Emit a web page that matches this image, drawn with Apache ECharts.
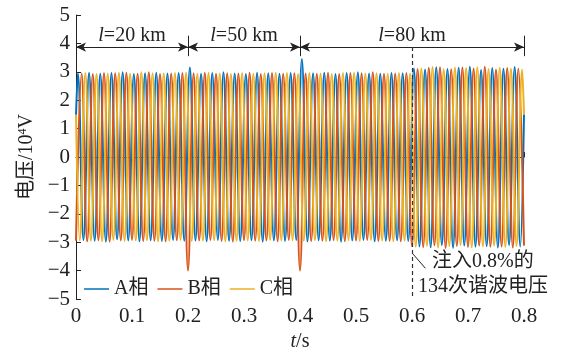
<!DOCTYPE html>
<html>
<head>
<meta charset="utf-8">
<script src="https://cdn.jsdelivr.net/npm/echarts@6/dist/echarts.min.js"></script>
<style>
  html, body { margin: 0; padding: 0; background: #fff; }
  #main { width: 562px; height: 351px; }
</style>
</head>
<body>
<div id="main"></div>
<script>
// 三相电压波形（50 Hz），只记录每个半周期的极值点 (10^4 V)
var halfPeriod = 0.01;          // 半周期 s
var startA = 1 / 300, startB = 0, startC = 1 / 150;   // 第一个极值出现的时刻
var edgeA = [1.45, 1.5];        // t=0 与 t=0.8 处的值
var edgeC = [1.5, 1.5];

var peaksA = [
  2.95,-2.92,2.97,-2.95,2.93,-2.98,2.96,-2.90,2.98,-2.94,2.92,-2.97,2.95,-2.93,2.97,-2.96,2.94,-2.92,2.96,-2.95,
  3.15,-2.94,2.93,-2.97,2.96,-2.92,2.98,-2.95,2.94,-2.96,2.92,-2.93,2.97,-2.98,2.95,-2.94,2.93,-2.96,2.96,-2.92,
  3.45,-2.97,2.95,-2.93,2.97,-2.95,2.92,-2.98,2.96,-2.94,2.98,-2.92,2.94,-2.97,2.93,-2.95,2.96,-2.93,2.95,-2.96,
  3.12,-3.15,3.08,-3.18,3.16,-3.10,3.10,-3.20,3.14,-3.12,3.18,-3.16,3.06,-3.14,3.13,-3.19,3.11,-3.10,3.17,-3.15
];
var peaksB = [
  -2.95,2.94,-2.97,2.92,-2.93,2.96,-2.98,2.95,-2.94,2.97,-2.92,2.93,-2.96,2.98,-2.95,2.92,-2.97,2.94,-2.93,2.96,
  -4.00,2.95,-2.94,2.97,-2.92,2.93,-2.96,2.95,-2.98,2.94,-2.93,2.97,-2.95,2.92,-2.94,2.96,-2.97,2.93,-2.92,2.95,
  -4.00,2.94,-2.96,2.93,-2.95,2.97,-2.93,2.92,-2.97,2.96,-2.94,2.95,-2.92,2.98,-2.96,2.93,-2.95,2.94,-2.97,2.96,
  -3.14,3.10,-3.18,3.14,-3.11,3.16,-3.20,3.09,-3.13,3.15,-3.17,3.12,-3.12,3.18,-3.16,3.08,-3.15,3.13,-3.19,3.11,
  -3.12
];
var peaksC = [
  -2.93,2.96,-2.95,2.92,-2.97,2.94,-2.92,2.97,-2.96,2.93,-2.94,2.98,-2.93,2.95,-2.97,2.94,-2.95,2.96,-2.92,2.97,
  -2.96,2.93,-2.95,2.97,-2.93,2.94,-2.97,2.92,-2.95,2.96,-2.94,2.93,-2.96,2.95,-2.92,2.97,-2.94,2.96,-2.93,2.92,
  -2.95,2.96,-2.93,2.94,-2.97,2.92,-2.95,2.96,-2.93,2.97,-2.96,2.94,-2.92,2.95,-2.94,2.93,-2.97,2.96,-2.95,2.94,
  -3.16,3.12,-3.13,3.17,-3.19,3.09,-3.14,3.15,-3.10,3.13,-3.18,3.16,-3.15,3.10,-3.12,3.14,-3.17,3.11,-3.13,3.08
];

var segLabels = ['20', '50', '80'];
var segBounds = [0, 0.2, 0.4, 0.8];

var FONT = '"Liberation Serif", "Noto Sans CJK SC", serif';
var FS = 20;

// 把极值序列放到时间轴上
function toPts(t0, vals, edge) {
  var pts = [];
  if (edge) pts.push([0, edge[0]]);
  for (var k = 0; k < vals.length; k++) {
    pts.push([+(t0 + k * halfPeriod).toFixed(5), vals[k]]);
  }
  if (edge) pts.push([0.8, edge[1]]);
  return pts;
}

var arrowY = 3.87;
var marks = [];
for (var i = 0; i < segLabels.length; i++) {
  marks.push([
    { coord: [segBounds[i], arrowY], symbol: 'arrow',
      label: { show: true, position: 'middle', distance: 1, formatter: '{i|l}=' + segLabels[i] + ' km',
               color: '#222', fontSize: FS, fontFamily: FONT,
               rich: { i: { fontStyle: 'italic', fontSize: FS, fontFamily: FONT, color: '#222' } } } },
    { coord: [segBounds[i + 1], arrowY], symbol: 'arrow' }
  ]);
}
// 分段竖线
[0.2, 0.4, 0.8].forEach(function (t) {
  marks.push([
    { coord: [t, 3.55], symbol: 'none', label: { show: false } },
    { coord: [t, 4.27], symbol: 'none', label: { show: false } }
  ]);
});

var chart = echarts.init(document.getElementById('main'));
chart.setOption({
  animation: false,
  textStyle: { fontFamily: FONT },
  grid: { left: 76, right: 38, top: 15, bottom: 52, containLabel: false, outerBoundsMode: 'none' },
  legend: {
    data: ['A相', 'B相', 'C相'],
    icon: 'rect',
    left: 79, top: 274,
    itemWidth: 25, itemHeight: 1.5, itemGap: 9,
    textStyle: { fontSize: FS, color: '#222', fontFamily: FONT }
  },
  xAxis: {
    type: 'value', min: 0, max: 0.8, interval: 0.1,
    name: '{i|t}/s', nameLocation: 'middle', nameGap: 31,
    nameTextStyle: { fontSize: FS, color: '#222', fontFamily: FONT,
      rich: { i: { fontStyle: 'italic', fontSize: FS, fontFamily: FONT, color: '#222' } } },
    axisLine: { show: true, lineStyle: { color: '#222', width: 1 } },
    axisTick: { show: true, inside: true, length: 5, lineStyle: { color: '#222' } },
    axisLabel: { fontSize: 21, color: '#222', margin: 7, fontFamily: FONT,
      formatter: function (v) { return String(+v.toFixed(1)); } },
    splitLine: { show: false }
  },
  yAxis: {
    type: 'value', min: -5, max: 5, interval: 1,
    name: '电压/10{sup|4}V', nameLocation: 'middle', nameGap: 36, nameRotate: 90,
    nameTextStyle: { fontSize: FS, color: '#222', fontFamily: FONT,
      rich: { sup: { fontSize: 12, verticalAlign: 'top', fontFamily: FONT, color: '#222' } } },
    axisLine: { show: true, lineStyle: { color: '#222', width: 1 } },
    axisTick: { show: true, inside: true, length: 5, lineStyle: { color: '#222' } },
    axisLabel: { fontSize: 21, color: '#222', margin: 6, fontFamily: FONT,
      formatter: function (v) { return String(v).replace('-', '\u2212'); } },
    splitLine: { show: false }
  },
  series: [
    { name: 'A相', type: 'line', data: toPts(startA, peaksA, edgeA), symbol: 'none', smooth: 0.4,
      lineStyle: { color: '#0072BD', width: 2 }, itemStyle: { color: '#0072BD' },
      markLine: {
        silent: true, animation: false, symbolSize: [7, 10],
        lineStyle: { color: '#222', width: 1, type: 'solid' },
        label: { show: false },
        data: marks
      } },
    { name: 'B相', type: 'line', data: toPts(startB, peaksB, null), symbol: 'none', smooth: 0.4,
      lineStyle: { color: '#D95319', width: 2 }, itemStyle: { color: '#D95319' } },
    { name: 'C相', type: 'line', data: toPts(startC, peaksC, edgeC), symbol: 'none', smooth: 0.4,
      lineStyle: { color: '#EDB120', width: 2 }, itemStyle: { color: '#EDB120' },
      markLine: {
        silent: true, animation: false, symbol: ['none', 'none'],
        label: { show: false },
        data: [
          [{ coord: [0.6, arrowY], lineStyle: { color: '#333', width: 1.2, type: [4, 3] } }, { coord: [0.6, -5] }],
          [{ coord: [0.601, -3.4], lineStyle: { color: '#222', width: 1, type: 'solid' } }, { coord: [0.624, -3.92] }]
        ]
      } }
  ],
  graphic: [
    { type: 'text', left: 432, top: 252, z: 100,
      style: { text: '注入0.8%的', font: FS + 'px ' + FONT, fill: '#222' } },
    { type: 'text', left: 418, top: 277, z: 100,
      style: { text: '134次谐波电压', font: FS + 'px ' + FONT, fill: '#222' } }
  ]
});
</script>
</body>
</html>
